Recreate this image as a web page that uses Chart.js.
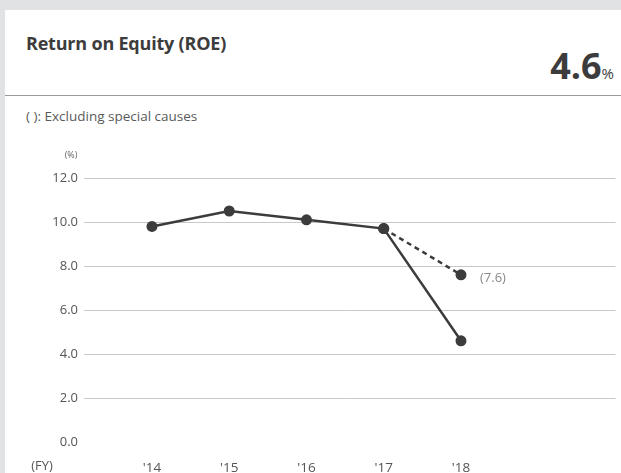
<!DOCTYPE html>
<html>
<head>
<meta charset="utf-8">
<script src="https://cdn.jsdelivr.net/npm/chart.js@4"></script>
<style>
  html, body { margin: 0; padding: 0; }
  body { width: 621px; height: 473px; background: #e1e2e4; position: relative; overflow: hidden; font-family: "Open Sans", sans-serif; }
  #card { position: absolute; left: 5px; top: 10px; width: 616px; height: 463px; background: #fff; }
  #title { position: absolute; left: 21px; top: 21px; font-size: 18px; font-weight: 700; color: #3c3c3c; letter-spacing: -0.2px; }
  #big { position: absolute; right: 7px; top: 31px; color: #3c3c3c; font-weight: 700; white-space: nowrap; }
  #big .n { font-size: 36px; }
  #big .p { font-size: 15px; font-weight: 400; }
  #sep { position: absolute; left: 0; top: 85px; width: 616px; height: 0; border-top: 1.5px solid #9a9a9a; }
  #note { position: absolute; left: 21px; top: 97px; font-size: 13.5px; color: #5a5a5a; }
  #wrap { position: absolute; left: 0; top: 0; width: 621px; height: 473px; }
</style>
</head>
<body>
<div id="card">
  <div id="title">Return on Equity (ROE)</div>
  <div id="big"><span class="n">4.6</span><span class="p">%</span></div>
  <div id="sep"></div>
  <div id="note">( ): Excluding special causes</div>
</div>
<div id="wrap"><canvas id="myChart" width="621" height="473"></canvas></div>
<script>
const years = ["'14", "'15", "'16", "'17", "'18"];
const roe = [9.8, 10.5, 10.1, 9.7, 4.6];
const roeExcl = [null, null, null, 9.7, 7.6];
const exclLabel = "(7.6)";
const yTicks = [0, 2, 4, 6, 8, 10, 12];

const ink = '#3c3c3c';

// extra text drawn on the canvas: units, FY label and the bracket value
const extraText = {
  id: 'extraText',
  afterDraw(chart) {
    const c = chart.ctx;
    const x = chart.scales.x, y = chart.scales.y;
    c.save();
    c.fillStyle = '#666';
    c.font = '9px "Open Sans"';
    c.textAlign = 'center';
    c.textBaseline = 'middle';
    c.fillText('(%)', 71, 155);
    c.font = '13px "Open Sans"';
    c.fillStyle = '#555';
    c.fillText('(FY)', 42, 466);
    c.textAlign = 'left';
    c.fillStyle = '#888';
    c.font = '13px "Open Sans"';
    c.fillText(exclLabel, x.getPixelForValue(4) + 19, y.getPixelForValue(roeExcl[4]) + 3);
    c.restore();
  }
};

var ctx = document.getElementById("myChart");
var myChart = new Chart(ctx, {
  type: 'line',
  data: {
    datasets: [{
      label: 'ROE',
      data: roe.map((v, i) => ({x: i, y: v})),
      borderColor: ink,
      backgroundColor: ink,
      borderWidth: 2.5,
      pointRadius: 5.5,
      pointBackgroundColor: ink,
      pointBorderWidth: 0,
      tension: 0
    }, {
      label: 'Excluding special causes',
      data: roeExcl.map((v, i) => ({x: i, y: v})),
      borderColor: ink,
      backgroundColor: ink,
      borderWidth: 2.5,
      borderDash: [5, 4],
      pointRadius: 5.5,
      pointBackgroundColor: ink,
      pointBorderWidth: 0,
      tension: 0
    }]
  },
  options: {
    responsive: false,
    animation: false,
    layout: { padding: { top: 178, right: 4, left: 0, bottom: 0 } },
    plugins: { legend: { display: false }, tooltip: { enabled: false } },
    scales: {
      x: {
        type: 'linear',
        min: -0.88,
        max: 6,
        afterFit: s => { s.height = 31; },
        afterBuildTicks: s => { s.ticks = years.map((_, i) => ({value: i})); },
        grid: { display: false },
        border: { display: false },
        ticks: {
          padding: 10,
          color: '#555',
          font: { family: 'Open Sans', size: 13.5 },
          callback: v => years[v] || ''
        }
      },
      y: {
        min: 0,
        max: 12,
        afterFit: s => { s.width = 84; },
        afterBuildTicks: s => { s.ticks = yTicks.map(v => ({value: v})); },
        grid: {
          drawTicks: false,
          color: c => c.tick && c.tick.value === 0 ? 'rgba(0,0,0,0)' : '#c8c8c8',
          lineWidth: 1
        },
        border: { display: false },
        ticks: {
          padding: 6,
          color: '#555',
          font: { family: 'Open Sans', size: 13 },
          callback: v => v.toFixed(1)
        }
      }
    }
  },
  plugins: [extraText]
});
</script>
</body>
</html>
